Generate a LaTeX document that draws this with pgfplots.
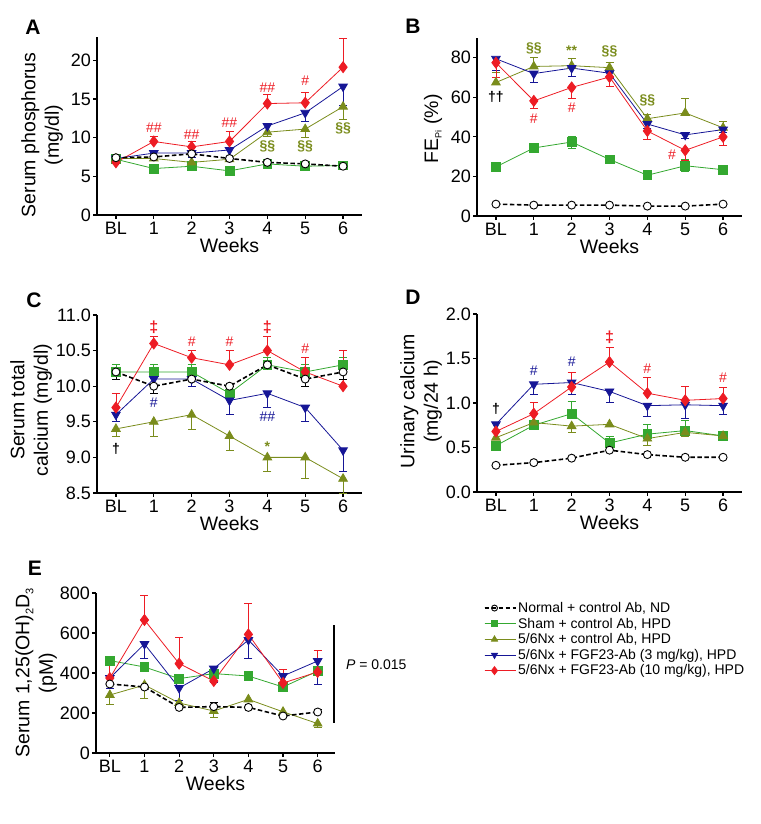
\documentclass[border=0pt]{standalone}
\usepackage{fontspec}
\setmainfont{Liberation Sans}
\usepackage{pgfplots}
\pgfplotsset{compat=1.18}
\definecolor{cRed}{RGB}{237,28,36}
\definecolor{cBlue}{RGB}{22,22,150}
\definecolor{cGreen}{RGB}{52,168,48}
\definecolor{cOlive}{RGB}{122,140,28}
\newcommand{\ann}[4]{\node[text=#1, font=#2] at (axis cs:#3) {#4};}
\newcommand{\fa}{\fontsize{14}{14}\selectfont}
\newcommand{\fb}{\bfseries\fontsize{14}{14}\selectfont}
\newcommand{\fc}{\bfseries\fontsize{16}{16}\selectfont}
\pgfplotsset{
  panel/.style={scale only axis, width=265pt, height=178pt,
    axis x line*=bottom, axis y line*=left,
    axis line style={line width=1.3pt},
    major tick style={line width=1.2pt, black},
    tick align=outside, major tick length=4pt,
    xmin=-0.5, xmax=6.5, xtick={0,...,6}, xticklabels={BL,1,2,3,4,5,6},
    tick label style={font=\fontsize{18}{21}\selectfont},
    xticklabel style={inner sep=3pt},
    yticklabel style={inner sep=2pt},
    /pgf/number format/assume math mode=true,
    scaled y ticks=false,
    clip=false, xlabel=Weeks,
    every axis x label/.style={at={(axis description cs:0.5,0)}, yshift=-31pt, anchor=center, font=\fontsize{19.5}{23.5}\selectfont},
    every axis y label/.style={rotate=90, anchor=center, align=center, font=\fontsize{19.5}{23.5}\selectfont},
  },
  eb/.style={error bars/y dir=both, error bars/y explicit,
    error bars/error bar style={line width=0.8pt, solid},
    error bars/error mark options={rotate=90, line width=0.8pt, mark size=4pt, solid}},
  sNormal/.style={black, line width=1.6pt, dash pattern=on 4.5pt off 2.5pt,
    mark=*, mark size=4pt, mark options={solid, fill=white, draw=black, line width=0.9pt}, eb},
  sSham/.style={cGreen, line width=0.8pt, mark=square*, mark size=4.4pt, eb},
  sOlive/.style={cOlive, line width=0.8pt, mark=triangle*, mark size=5pt, eb},
  sBlue/.style={cBlue, line width=0.8pt, mark=triangle*, mark size=5pt, mark options={rotate=180}, eb},
  sRed/.style={cRed, line width=0.8pt, mark=diamond*, mark size=5.5pt, eb},
}
\begin{document}
\begin{tikzpicture}
\path (0,0) rectangle (760pt,824pt);
\node[font=\bfseries\fontsize{21}{21}\selectfont] at (33pt,797pt) {A};
\node[font=\bfseries\fontsize{21}{21}\selectfont] at (413pt,798pt) {B};
\node[font=\bfseries\fontsize{21}{21}\selectfont] at (34pt,524pt) {C};
\node[font=\bfseries\fontsize{21}{21}\selectfont] at (413pt,527pt) {D};
\node[font=\bfseries\fontsize{21}{21}\selectfont] at (35pt,256pt) {E};

% ---------------- A
\begin{axis}[panel, at={(97pt,609pt)}, anchor=south west,
  ymin=0, ymax=23, ytick={0,5,10,15,20},
  ylabel={Serum phosphorus\\(mg/dl)},
  ylabel style={at={(axis description cs:-0.2075,0.45)}}]
\addplot[sSham] coordinates {(0,7.2) (1,6.0) (2,6.3) (3,5.7) (4,6.6) (5,6.3) (6,6.4)};
\addplot[sOlive] coordinates {(0,7.3) (1,7.3) (2,6.8) (3,7.2) (4,10.7) -= (0,0.5) (5,11.1) -= (0,1.1) (6,14.0) -= (0,1.6)};
\addplot[sBlue] coordinates {(0,7.3) (1,8.0) (2,8.0) -= (0,0.5) (3,8.4) (4,11.5) (5,13.2) -= (0,1.1) (6,16.6) -= (0,2.5)};
\addplot[sRed] coordinates {(0,6.8) (1,9.5) += (0,0.7) (2,8.8) += (0,0.7) (3,9.5) += (0,1.3) (4,14.4) += (0,1.2) (5,14.5) += (0,1.4) (6,19.1) += (0,3.7)};
\addplot[sNormal] coordinates {(0,7.4) (1,7.5) (2,7.9) (3,7.3) (4,6.8) (5,6.6) (6,6.3)};
\ann{cRed}{\fa}{1,11.3}{\#\#}
\ann{cRed}{\fa}{2,10.4}{\#\#}
\ann{cRed}{\fa}{3,11.9}{\#\#}
\ann{cRed}{\fa}{4,16.5}{\#\#}
\ann{cRed}{\fa}{5,17.3}{\#}
\ann{cOlive}{\fb}{4,8.9}{§§}
\ann{cOlive}{\fb}{5,8.9}{§§}
\ann{cOlive}{\fb}{6,11.2}{§§}
\end{axis}

% ---------------- B
\begin{axis}[panel, at={(477pt,608pt)}, anchor=south west,
  ymin=0, ymax=90, ytick={0,20,40,60,80},
  ylabel={FE\raisebox{-0.35ex}{\fontsize{9}{9}\selectfont Pi}~(\%)},
  ylabel style={at={(axis description cs:-0.166,0.49)}}]
\addplot[sSham] coordinates {(0,24.8) (1,34.4) +- (0,2) (2,37.4) +- (0,3) (3,28.6) +- (0,1.5) (4,20.6) (5,25.4) +- (0,3) (6,23.4)};
\addplot[sOlive] coordinates {(0,67.5) += (0,5) (1,75.6) += (0,4.5) (2,76) += (0,3.5) (3,75) += (0,2.8) (4,49.2) += (0,2.2) (5,52.1) += (0,7.2) (6,44.6) += (0,3)};
\addplot[sBlue] coordinates {(0,79.5) -= (0,6) (1,72) -= (0,4.3) (2,74.8) -= (0,4.2) (3,72.2) -= (0,2) (4,46.5) -= (0,2) (5,41) -= (0,2) (6,43.7) -= (0,1.5)};
\addplot[sRed] coordinates {(0,77.5) -= (0,7.2) (1,58.2) -= (0,4) (2,65) -= (0,5.6) (3,70.3) -= (0,4.8) (4,43) -= (0,4.3) (5,33.2) -= (0,5) (6,40) -= (0,4.2)};
\addplot[sNormal] coordinates {(0,6) (1,5.5) (2,5.5) (3,5.5) (4,5) (5,5) (6,6)};
\ann{cOlive}{\fb}{1,84.5}{§§}
\ann{cOlive}{\fb}{2,83.7}{**}
\ann{cOlive}{\fb}{3,83}{§§}
\ann{cOlive}{\fb}{4,58.5}{§§}
\ann{black}{\fb}{0,60}{††}
\ann{cRed}{\fa}{1,49}{\#}
\ann{cRed}{\fa}{2,55}{\#}
\ann{cRed}{\fa}{4.65,31}{\#}
\end{axis}

% ---------------- C
\begin{axis}[panel, at={(97pt,331pt)}, anchor=south west,
  ymin=8.5, ymax=11.0, ytick={8.5,9.0,9.5,10.0,10.5,11.0},
  yticklabel style={/pgf/number format/.cd, fixed, fixed zerofill, precision=1},
  ylabel={Serum total\\calcium (mg/dl)},
  ylabel style={at={(axis description cs:-0.249,0.466)}}]
\addplot[sSham] coordinates {(0,10.2) += (0,0.1) (1,10.2) += (0,0.1) (2,10.2) += (0,0.1) (3,9.9) += (0,0.1) (4,10.3) += (0,0.1) (5,10.2) += (0,0.1) (6,10.3) += (0,0.1)};
\addplot[sOlive] coordinates {(0,9.4) -= (0,0.1) (1,9.5) -= (0,0.2) (2,9.6) -= (0,0.2) (3,9.3) -= (0,0.2) (4,9.0) -= (0,0.2) (5,9.0) -= (0,0.3) (6,8.7) -= (0,0.2)};
\addplot[sBlue] coordinates {(0,9.6) -= (0,0.1) (1,10.1) (2,10.1) -= (0,0.1) (3,9.8) -= (0,0.2) (4,9.9) -= (0,0.2) (5,9.7) -= (0,0.2) (6,9.1) -= (0,0.3)};
\addplot[sRed] coordinates {(0,9.7) += (0,0.2) (1,10.6) += (0,0.1) (2,10.4) += (0,0.1) (3,10.3) += (0,0.2) (4,10.5) += (0,0.2) (5,10.2) += (0,0.2) (6,10.0) += (0,0.5)};
\addplot[sNormal] coordinates {(0,10.2) -= (0,0.1) (1,10.0) -= (0,0.1) (2,10.1) (3,10.0) (4,10.3) (5,10.1) -= (0,0.1) (6,10.2) -= (0,0.1)};
\ann{cRed}{\fc}{1,10.83}{‡}
\ann{cRed}{\fa}{2,10.62}{\#}
\ann{cRed}{\fa}{3,10.62}{\#}
\ann{cRed}{\fc}{4,10.83}{‡}
\ann{cRed}{\fa}{5,10.53}{\#}
\ann{cBlue}{\fa}{1,9.77}{\#}
\ann{cBlue}{\fa}{4,9.57}{\#\#}
\ann{cOlive}{\fb}{4,9.15}{*}
\ann{black}{\fb}{0,9.12}{†}
\end{axis}

% ---------------- D
\begin{axis}[panel, at={(477pt,332pt)}, anchor=south west,
  ymin=0, ymax=2.0, ytick={0,0.5,1.0,1.5,2.0},
  yticklabel style={/pgf/number format/.cd, fixed, fixed zerofill, precision=1},
  ylabel={Urinary calcium\\(mg/24 h)},
  ylabel style={at={(axis description cs:-0.211,0.51)}}]
\addplot[sSham] coordinates {(0,0.52) (1,0.75) (2,0.88) += (0,0.14) (3,0.55) += (0,0.08) (4,0.65) += (0,0.11) (5,0.69) += (0,0.12) (6,0.63) += (0,0.03)};
\addplot[sOlive] coordinates {(0,0.61) (1,0.78) (2,0.74) -= (0,0.07) (3,0.76) (4,0.60) -= (0,0.08) (5,0.67) -= (0,0.05) (6,0.63) -= (0,0.04)};
\addplot[sBlue] coordinates {(0,0.76) (1,1.21) -= (0,0.11) (2,1.23) -= (0,0.13) (3,1.13) -= (0,0.12) (4,0.97) -= (0,0.12) (5,0.98) -= (0,0.15) (6,0.97) -= (0,0.1)};
\addplot[sRed] coordinates {(0,0.68) (1,0.88) += (0,0.13) (2,1.18) += (0,0.16) (3,1.46) += (0,0.16) (4,1.11) += (0,0.18) (5,1.03) += (0,0.16) (6,1.05) += (0,0.13)};
\addplot[sNormal] coordinates {(0,0.30) (1,0.33) (2,0.38) (3,0.47) (4,0.42) (5,0.39) (6,0.39)};
\ann{cBlue}{\fa}{1,1.36}{\#}
\ann{cBlue}{\fa}{2,1.46}{\#}
\ann{cRed}{\fc}{3,1.74}{‡}
\ann{cRed}{\fa}{4,1.39}{\#}
\ann{cRed}{\fa}{6,1.28}{\#}
\ann{black}{\fb}{0,0.93}{†}
\end{axis}

% ---------------- E
\begin{axis}[panel, at={(96pt,71pt)}, anchor=south west,
  width=239pt, height=160pt, xmin=-0.4, xmax=6.5,
  ymin=0, ymax=800, ytick={0,200,400,600,800},
  ylabel={Serum 1,25(OH)\raisebox{-0.4ex}{\fontsize{11}{11}\selectfont 2}D\raisebox{-0.4ex}{\fontsize{11}{11}\selectfont 3}\\(pM)},
  ylabel style={at={(axis description cs:-0.251,0.5)}},
  legend style={at={(1.622,0.956)}, anchor=north west, draw=none, fill=none,
    font=\fontsize{14}{17}\selectfont, row sep=0pt, inner sep=0pt,
    nodes={inner xsep=2pt}},
  legend image code/.code={\draw[mark repeat=2, mark phase=2, #1] plot coordinates {(0pt,0pt) (10pt,0pt) (20pt,0pt)}; \path (0pt,0pt) -- (31pt,0pt);},
  legend cell align=left]
\addlegendimage{sNormal, mark size=3pt, line width=1.3pt}
\addlegendentry{Normal + control Ab, ND}
\addlegendimage{sSham, mark size=3pt}
\addlegendentry{Sham + control Ab, HPD}
\addlegendimage{sOlive, mark size=3.5pt}
\addlegendentry{5/6Nx + control Ab, HPD}
\addlegendimage{sBlue, mark size=3.5pt}
\addlegendentry{5/6Nx + FGF23-Ab (3 mg/kg), HPD}
\addlegendimage{sRed, mark size=4pt}
\addlegendentry{5/6Nx + FGF23-Ab (10 mg/kg), HPD}
\addplot[sSham, forget plot] coordinates {(0,462) -= (0,15) (1,430) -= (0,20) (2,372) -= (0,12) (3,397) -= (0,25) (4,385) -= (0,20) (5,330) -= (0,20) (6,410) -= (0,20)};
\addplot[sOlive, forget plot] coordinates {(0,290) -= (0,45) (1,340) -= (0,65) (2,250) (3,210) -= (0,30) (4,268) (5,206) (6,147) -= (0,20)};
\addplot[sBlue, forget plot] coordinates {(0,375) -= (0,50) (1,545) -= (0,70) (2,325) -= (0,60) (3,422) -= (0,70) (4,565) -= (0,90) (5,385) -= (0,70) (6,460) -= (0,115)};
\addplot[sRed, forget plot] coordinates {(0,375) += (0,75) (1,665) += (0,125) (2,447) += (0,133) (3,360) (4,593) += (0,157) (5,350) += (0,67) (6,405) += (0,107)};
\addplot[sNormal, forget plot] coordinates {(0,345) += (0,10) (1,330) (2,228) (3,232) += (0,20) (4,228) (5,185) (6,205) += (0,12)};
\draw[line width=2.2pt] (axis cs:6.47,150) -- (axis cs:6.47,640);
\node[anchor=west, font=\fontsize{14}{14}\selectfont] at (axis cs:6.72,440) {\textit{P} = 0.015};
\end{axis}
\end{tikzpicture}
\end{document}
